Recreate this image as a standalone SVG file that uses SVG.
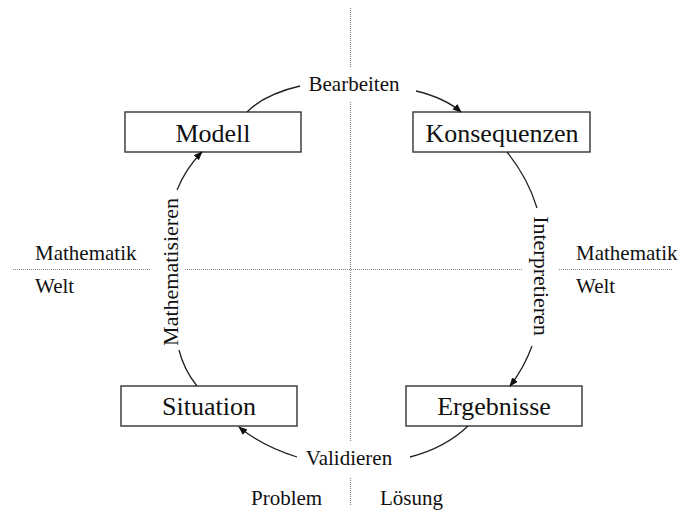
<svg xmlns="http://www.w3.org/2000/svg" width="684" height="513" viewBox="0 0 684 513">
<defs>
<style>
text{font-family:"Liberation Serif","Times New Roman",serif;fill:#111}
.node rect{fill:#fff;stroke:#333;stroke-width:1.4}
.node text{font-size:26px;text-anchor:middle}
.lbl{font-size:21px}
.rot{font-size:22px;text-anchor:middle}
.axis{stroke:#888;stroke-width:1.2;stroke-dasharray:1 1;fill:none}
.conn path{fill:none;stroke:#222;stroke-width:1.3}
</style>
<marker id="arr" viewBox="0 0 10 10" refX="9" refY="5" markerWidth="9" markerHeight="9" markerUnits="userSpaceOnUse" orient="auto">
<path d="M0,1 L10,5 L0,9 z" fill="#111"/>
</marker>
</defs>
<rect width="684" height="513" fill="#fff"/>
<g id="axes">
<path class="axis" d="M350.5,8 V68 M350.5,102 V442 M350.5,478 V505"/>
<path class="axis" d="M13,269.5 H150 M185,269.5 H522 M559,269.5 H672"/>
</g>
<g id="labels">
<text class="lbl" x="35" y="260">Mathematik</text>
<text class="lbl" x="35" y="293">Welt</text>
<text class="lbl" x="576" y="260">Mathematik</text>
<text class="lbl" x="576" y="293">Welt</text>
<text class="lbl" x="251" y="505">Problem</text>
<text class="lbl" x="380" y="505">Lösung</text>
<text class="lbl" x="354" y="91" text-anchor="middle">Bearbeiten</text>
<text class="lbl" x="349" y="465" text-anchor="middle">Validieren</text>
<text class="rot" transform="translate(177.5,272) rotate(-90)">Mathematisieren</text>
<text class="rot" transform="translate(533.5,276) rotate(90)">Interpretieren</text>
</g>
<g id="modell" class="node"><rect x="125" y="112" width="176" height="40"/><text x="213" y="142">Modell</text></g>
<g id="konsequenzen" class="node"><rect x="413" y="112" width="177" height="40"/><text x="502" y="142">Konsequenzen</text></g>
<g id="situation" class="node"><rect x="121" y="386" width="176" height="40"/><text x="209" y="415">Situation</text></g>
<g id="ergebnisse" class="node"><rect x="406" y="386" width="176" height="40"/><text x="494" y="415">Ergebnisse</text></g>
<g id="connectors" class="conn">
<path d="M247,112 Q265,94 300,86"/>
<path d="M416,91 Q445,98 461,112" marker-end="url(#arr)"/>
<path d="M507,152 Q528,178 537,208"/>
<path d="M532,346 Q524,368 510,386" marker-end="url(#arr)"/>
<path d="M468,426 Q445,448 410,457"/>
<path d="M297,457 Q262,446 239,427" marker-end="url(#arr)"/>
<path d="M197,386 Q184,370 179,350"/>
<path d="M177,190 Q186,168 202,152" marker-end="url(#arr)"/>
</g>
</svg>
